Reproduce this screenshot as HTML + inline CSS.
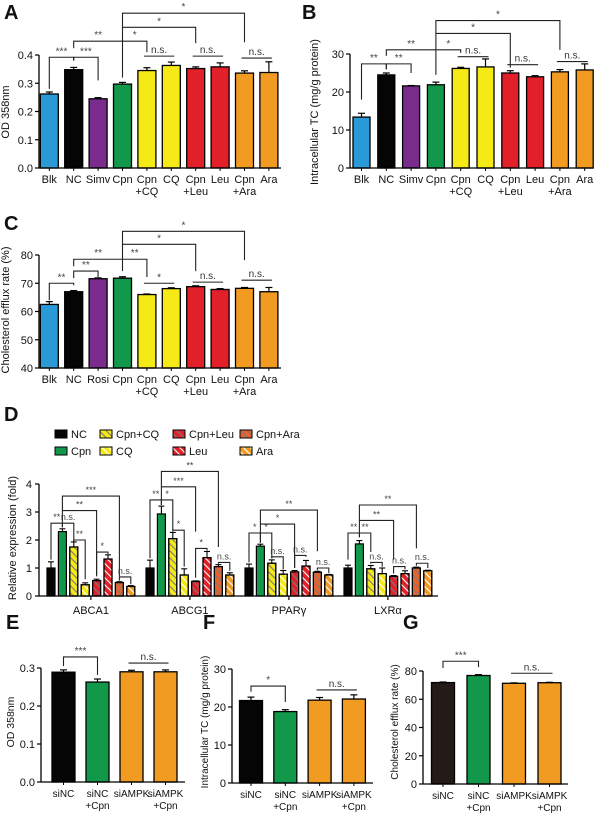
<!DOCTYPE html>
<html><head><meta charset="utf-8">
<style>
html,body{margin:0;padding:0;background:#fff;}
svg{display:block;font-family:"Liberation Sans",Arial,sans-serif;}
</style></head>
<body>
<svg id="fig" width="600" height="820" viewBox="0 0 600 820">
<defs>
 <pattern id="hatchGray" patternUnits="userSpaceOnUse" width="5" height="5" patternTransform="rotate(-45)">
  <line x1="0" y1="0" x2="0" y2="5" stroke="#7a7a7a" stroke-width="2.2"/>
 </pattern>
 <pattern id="hatchWhite" patternUnits="userSpaceOnUse" width="5" height="5" patternTransform="rotate(-45)">
  <line x1="0" y1="0" x2="0" y2="5" stroke="#ffffff" stroke-width="2.2"/>
 </pattern>
</defs>
</svg>
<script>
// ---------- DATA ----------
const aCats = ["Blk","NC","Simv","Cpn","Cpn\n+CQ","CQ","Cpn\n+Leu","Leu","Cpn\n+Ara","Ara"];
const aValues = [0.262,0.348,0.245,0.297,0.345,0.363,0.352,0.358,0.336,0.338];
const aErrors = [0.007,0.008,0.004,0.006,0.010,0.012,0.006,0.014,0.008,0.038];
const aTicks = [0,0.1,0.2,0.3,0.4];
const aBrackets = [[0,1,0.392,0.28,0.38,"***"],[1,2,0.392,0.38,0.31,"***"],[1,3,0.449,0.424,0.32,"**"],[3,4,0.449,0.449,0.41,"*"],[3,6,0.498,0.449,0.442,"*"],[3,8,0.548,0.498,0.445,"*"]];
const aLines = [[4,5,0.396,"n.s."],[6,7,0.396,"n.s."],[8,9,0.389,"n.s."]];

const bCats = ["Blk","NC","Simv","Cpn","Cpn\n+CQ","CQ","Cpn\n+Leu","Leu","Cpn\n+Ara","Ara"];
const bValues = [13.4,24.5,21.6,21.9,26.2,26.6,25.0,24.0,25.3,25.8];
const bErrors = [1.0,0.5,0.1,0.7,0.3,2.1,0.6,0.3,0.6,1.6];
const bTicks = [0,10,20,30];
const bBrackets = [[0,1,27.4,18,26,"**"],[1,2,27.4,26,25,"**"],[1,3,31.1,29.5,24.5,"**"],[3,4,31.1,31.1,30.3,"*"],[3,6,35.4,31.1,26.4,"*"],[3,8,38.8,35.4,31.1,"*"]];
const bLines = [[4,5,29.3,"n.s."],[6,7,27.2,"n.s."],[8,9,28.0,"n.s."]];

const cCats = ["Blk","NC","Rosi","Cpn","Cpn\n+CQ","CQ","Cpn\n+Leu","Leu","Cpn\n+Ara","Ara"];
const cValues = [62.5,67.0,71.6,71.8,66.0,68.1,68.8,67.8,68.2,67.0];
const cErrors = [1.0,0.4,0.3,0.5,0.2,0.3,0.3,0.3,0.3,1.5];
const cTicks = [40,50,60,70,80];
const cBrackets = [[0,1,70,64,69.3,"**"],[1,2,74.3,71.8,72.2,"**"],[1,3,78.5,76,74.3,"**"],[3,4,78.5,78.5,72.2,"**"],[3,6,83.8,78.5,74.3,"*"],[3,8,88.4,83.8,78.2,"*"]];
const cLines = [[4,5,70.0,"*"],[6,7,70.4,"n.s."],[8,9,71.1,"n.s."]];

const dGenes = ["ABCA1","ABCG1","PPARγ","LXRα"];
const dSeries = ["NC","Cpn","Cpn+CQ","CQ","Cpn+Leu","Leu","Cpn+Ara","Ara"];
const dNC     = [1.00,1.00,1.00,1.00];
const dCpn    = [2.30,2.93,1.78,1.86];
const dCpnCQ  = [1.75,2.05,1.17,0.97];
const dCQ     = [0.40,0.75,0.78,0.80];
const dCpnLeu = [0.55,0.52,0.86,0.70];
const dLeu    = [1.32,1.37,1.07,0.80];
const dCpnAra = [0.48,1.05,0.85,1.00];
const dAra    = [0.34,0.75,0.75,0.90];
const dNCErr     = [0.22,0.28,0.14,0.10];
const dCpnErr    = [0.10,0.28,0.07,0.12];
const dCpnCQErr  = [0.18,0.22,0.12,0.12];
const dCQErr     = [0.07,0.22,0.13,0.20];
const dCpnLeuErr = [0.05,0.02,0.05,0.03];
const dLeuErr    = [0.15,0.22,0.20,0.10];
const dCpnAraErr = [0.03,0.07,0.03,0.03];
const dAraErr    = [0.03,0.08,0.02,0.02];
const dTicks = [0,1,2,3,4];
const dBrackets = [
 [0,0,1,2.6,1.3,2.45,"**"],[0,1,2,2.6,2.45,1.95,"n.s."],[0,2,3,2.0,1.95,0.6,"**"],[0,1,4,3.05,2.6,0.75,"**"],[0,1,6,3.57,3.05,0.7,"***"],[0,4,5,1.57,0.7,1.5,"*"],[0,6,7,0.68,0.55,0.42,"n.s."],
 [1,0,1,3.43,1.35,3.25,"**"],[1,1,2,3.43,3.25,2.35,"*"],[1,1,4,3.9,3.43,2.3,"***"],[1,2,3,2.35,2.3,1.05,"*"],[1,1,6,4.45,3.9,1.75,"**"],[1,4,5,1.7,0.65,1.62,"*"],[1,6,7,1.2,1.15,0.9,"n.s."],
 [2,0,1,2.25,1.2,1.9,"*"],[2,1,2,2.25,1.9,1.35,"*"],[2,1,4,2.57,2.25,1.0,"*"],[2,1,6,3.07,2.57,1.6,"**"],[2,2,3,1.4,1.35,0.95,"n.s."],[2,4,5,1.45,1.0,1.4,"n.s."],[2,6,7,1.0,0.92,0.82,"n.s."],
 [3,0,1,2.25,1.3,2.1,"**"],[3,1,2,2.25,2.1,1.57,"**"],[3,1,4,2.7,2.25,1.3,"**"],[3,1,6,3.25,2.7,1.7,"**"],[3,2,3,1.2,1.15,1.05,"n.s."],[3,4,5,1.05,0.8,0.95,"n.s."],[3,6,7,1.17,1.08,1.0,"n.s."]
];

const eCats = ["siNC","siNC\n+Cpn","siAMPK","siAMPK\n+Cpn"];
const eValues = [0.289,0.263,0.290,0.290];
const eErrors = [0.006,0.008,0.004,0.005];
const eTicks = [0,0.1,0.2,0.3];
const eBrackets = [[0,1,0.329,0.305,0.282,"***"]];
const eLines = [[2,3,0.313,"n.s."]];

const fCats = ["siNC","siNC\n+Cpn","siAMPK","siAMPK\n+Cpn"];
const fValues = [21.7,18.8,21.8,22.1];
const fErrors = [0.9,0.5,0.7,1.1];
const fTicks = [0,10,20,30];
const fBrackets = [[0,1,25.5,24,21.3,"*"]];
const fLines = [[2,3,24.5,"n.s."]];

const gCats = ["siNC","siNC\n+Cpn","siAMPK","siAMPK\n+Cpn"];
const gValues = [71.8,76.8,71.3,71.7];
const gErrors = [0.4,0.6,0.3,0.3];
const gTicks = [0,20,40,60,80];
const gBrackets = [[0,1,86.9,82,82.7,"***"]];
const gLines = [[2,3,78.4,"n.s."]];

// ---------- STYLE ----------
const BLUE="#2a9ad6", BLACK="#050505", PURPLE="#7a2c8c", GREEN="#12984a", YELLOW="#f6ea16", RED="#e2202a", ORANGE="#f29b22", DKORANGE="#e8632b", BROWN="#241a17";
const colsABC = [BLUE,BLACK,PURPLE,GREEN,YELLOW,YELLOW,RED,RED,ORANGE,ORANGE];
const colsEF = [BLACK,GREEN,ORANGE,ORANGE];
const colsG = [BROWN,GREEN,ORANGE,ORANGE];
const dFill = [BLACK,GREEN,YELLOW,YELLOW,RED,RED,DKORANGE,ORANGE];
const dHatch = [null,null,"hatchGray","hatchWhite","hatchGray","hatchWhite","hatchGray","hatchWhite"];

const NS="http://www.w3.org/2000/svg";
const svg=document.getElementById('fig');
function mk(tag,parent){const e=document.createElementNS(NS,tag);(parent||svg).appendChild(e);return e;}
function txt(parent,x,y,s,size,anchor,weight){
 const t=mk('text',parent);t.setAttribute('x',x);t.setAttribute('y',y);t.setAttribute('font-size',size);
 t.setAttribute('text-anchor',anchor||'middle');if(weight)t.setAttribute('font-weight',weight);t.setAttribute('fill','#111');t.textContent=s;return t;}
function ln(parent,x1,y1,x2,y2,w,c){const l=mk('line',parent);l.setAttribute('x1',x1);l.setAttribute('y1',y1);l.setAttribute('x2',x2);l.setAttribute('y2',y2);l.setAttribute('stroke',c||'#000');l.setAttribute('stroke-width',w||1);return l;}

function drawBracketSet(g,X,Y,brs,lines,fs){
 brs.forEach(b=>{
  const p=mk('path',g);
  
  
  p.setAttribute('d',`M${X(b[0])},${Y(b[3])}V${Y(b[2])}H${X(b[1])}V${Y(b[4])}`);
  p.setAttribute('fill','none');p.setAttribute('stroke','#222');p.setAttribute('stroke-width','1.1');
  const t=txt(g,(X(b[0])+X(b[1]))/2,Y(b[2])-3,b[5],fs,'middle');
  t.setAttribute('fill','#444');
  
  
 });
 (lines||[]).forEach(b=>{
  const l=ln(g,X(b[0])-3,Y(b[2]),X(b[1])+3,Y(b[2]),1.1,'#222');
  
  
  const t=txt(g,(X(b[0])+X(b[1]))/2,Y(b[2])-3,b[3],fs,'middle');
  t.setAttribute('fill','#333');
  
  
 });
}

function drawPanel(p,cats,vals,errs,ticks,cols,brs,lines){
 const g=mk('g');
 
 
 const cf=p.cf||11;
 const Y=v=>p.py0-(v-p.vmin)/(p.vmax-p.vmin)*(p.py0-p.py1);
 const X=i=>p.c0+i*p.step;
 const letter=txt(g,p.lx,p.ly,p.letter,20,'start','bold');
 
 
 vals.forEach((v,i)=>{
  const r=mk('rect',g);
  
  
  r.setAttribute('x',X(i)-p.bw/2);r.setAttribute('y',Y(v));r.setAttribute('width',p.bw);r.setAttribute('height',p.py0-Y(v));
  r.setAttribute('fill',cols[i]);r.setAttribute('stroke','#000');r.setAttribute('stroke-width','1.3');
  const e=errs[i];
  ln(g,X(i),Y(v),X(i),Y(v+e),1.2);ln(g,X(i)-3.5,Y(v+e),X(i)+3.5,Y(v+e),1.2);
  ln(g,X(i),p.py0,X(i),p.py0+3,1);
  cats[i].split('\n').forEach((s,k)=>{const t=txt(g,X(i),p.py0+15+k*12,s,cf,'middle');
   
   });
 });
 const ax=ln(g,p.ax,p.py0,p.ax,p.py1,1.3);
 
 
 const xa=ln(g,p.ax,p.py0,p.axEnd,p.py0,1.3);
 
 
 ticks.forEach(t=>{ln(g,p.ax-4,Y(t),p.ax,Y(t),1.2);
  const tl=txt(g,p.ax-6,Y(t)+4,p.dec?t.toFixed(1):String(t),11,'end');
  
  });
 const yt=txt(g,0,0,p.title,p.tf||11,'middle');
 yt.setAttribute('transform',`translate(${p.tx},${p.ty}) rotate(-90)`);
 
 
 drawBracketSet(g,X,Y,brs,lines,p.fs||10);
}

drawPanel({name:'panel-a-chart',letter:'A',lx:4,ly:19,py0:168,py1:55,vmin:0,vmax:0.4,c0:49.3,step:24.4,bw:18,ax:39,axEnd:281,dec:true,title:'OD 358nm',tx:9,ty:112},aCats,aValues,aErrors,aTicks,colsABC,aBrackets,aLines);
drawPanel({name:'panel-b-chart',letter:'B',lx:302,ly:19,py0:168,py1:54,vmin:0,vmax:30,c0:361.5,step:24.8,bw:17,ax:350,axEnd:593,title:'Intracellular TC (mg/g protein)',tx:318,ty:112},bCats,bValues,bErrors,bTicks,colsABC,bBrackets,bLines);
drawPanel({name:'panel-c-chart',letter:'C',lx:4,ly:230,py0:368,py1:255,vmin:40,vmax:80,c0:49.3,step:24.4,bw:18,ax:39,axEnd:281,title:'Cholesterol efflux rate (%)',tx:9,ty:310},cCats,cValues,cErrors,cTicks,colsABC,cBrackets,cLines);
drawPanel({name:'panel-e-chart',letter:'E',lx:6,ly:629,py0:782,py1:668,vmin:0,vmax:0.3,c0:63.5,step:34,bw:23,ax:41,axEnd:185,dec:true,cf:10,tf:10.5,title:'OD 358nm',tx:14,ty:722},eCats,eValues,eErrors,eTicks,colsEF,eBrackets,eLines);
drawPanel({name:'panel-f-chart',letter:'F',lx:203,ly:629,py0:783,py1:669,vmin:0,vmax:30,c0:251,step:34.3,bw:23,ax:232,axEnd:373,cf:10,tf:10,title:'Intracellular TC (mg/g protein)',tx:208,ty:722},fCats,fValues,fErrors,fTicks,colsEF,fBrackets,fLines);
drawPanel({name:'panel-g-chart',letter:'G',lx:403,ly:629,py0:784,py1:671,vmin:0,vmax:80,c0:443,step:35.5,bw:23,ax:423,axEnd:568,cf:10,tf:10,title:'Cholesterol efflux rate (%)',tx:398,ty:722},gCats,gValues,gErrors,gTicks,colsG,gBrackets,gLines);

// ---------- PANEL D ----------
(function(){
 const g=mk('g');
 
 
 const py0=596,py1=484,vmax=4,ax=39,axEnd=438,c0=51,step=11.4,gstep=99,bw=8;
 const Y=v=>py0-v/vmax*(py0-py1);
 const X=(gi,si)=>c0+gi*gstep+si*step;
 const L=txt(g,4,421,'D',20,'start','bold');
 
 
 const series=[dNC,dCpn,dCpnCQ,dCQ,dCpnLeu,dLeu,dCpnAra,dAra];
 const serr=[dNCErr,dCpnErr,dCpnCQErr,dCQErr,dCpnLeuErr,dLeuErr,dCpnAraErr,dAraErr];
 const lx=[55,100,173,240,55,100,173,240], ly=[438,438,438,438,455,455,455,455];
 const order=[0,2,4,6,1,3,5,7];
 order.forEach((si,k)=>{
  const lg=mk('g',g);
  
  
  const r=mk('rect',lg);r.setAttribute('x',lx[k]);r.setAttribute('y',ly[k]-8);r.setAttribute('width',12);r.setAttribute('height',8);
  r.setAttribute('fill',dFill[si]);r.setAttribute('stroke','#000');r.setAttribute('stroke-width','1');
  if(dHatch[si]){const h=mk('rect',lg);h.setAttribute('x',lx[k]);h.setAttribute('y',ly[k]-8);h.setAttribute('width',12);h.setAttribute('height',8);h.setAttribute('fill',`url(#${dHatch[si]})`);h.setAttribute('stroke','#000');h.setAttribute('stroke-width','1');}
  txt(lg,lx[k]+16,ly[k],dSeries[si],11,'start');
 });
 dGenes.forEach((gn,gi)=>{
  series.forEach((arr,si)=>{
   const v=arr[gi],e=serr[si][gi],x=X(gi,si);
   const r=mk('rect',g);
   
   
   r.setAttribute('x',x-bw/2);r.setAttribute('y',Y(v));r.setAttribute('width',bw);r.setAttribute('height',py0-Y(v));
   r.setAttribute('fill',dFill[si]);r.setAttribute('stroke','#000');r.setAttribute('stroke-width','1.2');
   if(dHatch[si]){const h=mk('rect',g);h.setAttribute('x',x-bw/2);h.setAttribute('y',Y(v));h.setAttribute('width',bw);h.setAttribute('height',py0-Y(v));h.setAttribute('fill',`url(#${dHatch[si]})`);h.setAttribute('stroke','#000');h.setAttribute('stroke-width','1.2');}
   ln(g,x,Y(v),x,Y(v+e),1.1);ln(g,x-3,Y(v+e),x+3,Y(v+e),1.1);
  });
  const cx=(X(gi,0)+X(gi,7))/2;
  ln(g,cx,py0,cx,py0+4,1.2);
  const t=txt(g,cx,py0+18,gn,11,'middle');
  
  
 });
 const ya=ln(g,ax,py0,ax,py1,1.3);
 
 
 const xa=ln(g,ax,py0,axEnd,py0,1.3);
 
 
 dTicks.forEach(t=>{ln(g,ax-4,Y(t),ax,Y(t),1.2);
  const tl=txt(g,ax-7,Y(t)+4,String(t),11,'end');
  
  });
 const yt=txt(g,0,0,'Relative expression (fold)',11,'middle');
 yt.setAttribute('transform','translate(16,538) rotate(-90)');
 
 
 dBrackets.forEach(b=>{
  const gi=b[0];
  drawBracketSet(g,i=>X(gi,i),Y,[[b[1],b[2],b[3],b[4],b[5],b[6]]],[],9);
 });
})();
</script>
</body></html>
